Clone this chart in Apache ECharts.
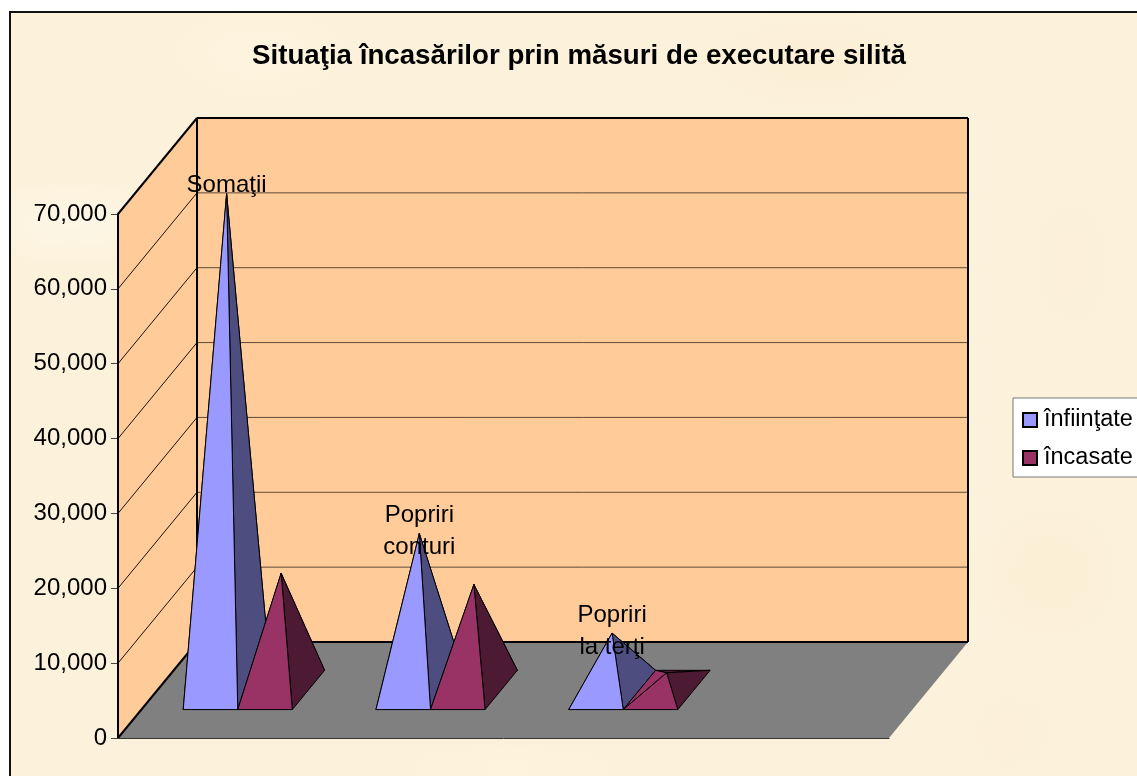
<!DOCTYPE html>
<html><head><meta charset="utf-8">
<style>
html,body{margin:0;padding:0;background:#fff;overflow:hidden}
#frame{position:absolute;left:9px;top:11px;width:1140px;height:780px;box-sizing:border-box;border:2px solid #111;
background-color:#fcf1da;
background-image:
radial-gradient(ellipse 120px 50px at 60px 210px,rgba(255,250,240,.55),transparent),
radial-gradient(ellipse 140px 70px at 250px 40px,rgba(255,248,230,.4),transparent),
radial-gradient(ellipse 90px 90px at 1040px 560px,rgba(248,232,198,.25),transparent),
radial-gradient(ellipse 80px 130px at 1060px 250px,rgba(249,235,205,.2),transparent),
radial-gradient(ellipse 150px 60px at 800px 50px,rgba(249,235,205,.35),transparent),
radial-gradient(ellipse 150px 30px at 500px 755px,rgba(255,246,222,.5),transparent),
radial-gradient(ellipse 80px 80px at 1000px 720px,rgba(249,235,205,.2),transparent);}
#chart{position:absolute;left:0;top:0;width:1137px;height:776px}
</style>
<script src="https://cdn.jsdelivr.net/npm/echarts@6/dist/echarts.min.js"></script>
</head><body><div id="frame"></div><div id="chart"></div>
<script>
const categories = ['Somaţii', 'Popriri\nconturi', 'Popriri\nla terţi', ''];
const infiintate = [66300, 20900, 7600];
const incasate = [15600, 14100, 2300];
const yTicks = [0, 10000, 20000, 30000, 40000, 50000, 60000, 70000];
const titleText = 'Situaţia încasărilor prin măsuri de executare silită';
const seriesNames = ['înfiinţate', 'încasate'];

const FONT = '"Liberation Sans", Arial, sans-serif';
const DX = 79, DY = 96;            // oblique projection of the chart's depth
const DEPTH_FRONT = 0.296, DEPTH_BACK = 0.705, DEPTH_MID = 0.5;
const BAR_W = 0.283;

const P = (x, y, d) => [x + d * DX, y - d * DY];
const poly = (points, fill, stroke, lineWidth) => ({
  type: 'polygon', shape: { points },
  style: { fill, stroke: stroke || '#000', lineWidth: lineWidth === undefined ? 1 : lineWidth }
});
const seg = (a, b, stroke, lineWidth) => ({
  type: 'line', shape: { x1: a[0], y1: a[1], x2: b[0], y2: b[1] },
  style: { stroke, lineWidth }
});

function renderWalls(params, api) {
  const c = params.coordSys;
  const x0 = c.x, x1 = c.x + c.width;
  const yOf = v => api.coord([0, v])[1];
  const y0 = yOf(0), yT = yOf(yTicks[yTicks.length - 1]);
  const children = [];
  children.push(poly([[x0, y0], [x1, y0], P(x1, y0, 1), P(x0, y0, 1)], '#808080', 'none', 0));
  children.push(poly([P(x0, y0, 1), P(x1, y0, 1), P(x1, yT, 1), P(x0, yT, 1)], '#FFCC99', 'none', 0));
  children.push(poly([[x0, y0], P(x0, y0, 1), P(x0, yT, 1), [x0, yT]], '#FFCC99', 'none', 0));
  yTicks.slice(1, -1).forEach(v => {
    const y = yOf(v);
    children.push(seg([x0, y], P(x0, y, 1), '#1a1208', 1));
    children.push(seg(P(x0, y, 1), P(x1, y, 1), '#5f4a36', 1));
  });
  const W = 2, K = '#000';
  children.push(seg([x0, y0], [x0, yT], K, W));
  children.push(seg([x0, yT], P(x0, yT, 1), K, W));
  children.push(seg([x0, y0], P(x0, y0, 1), K, W));
  children.push(seg(P(x0, y0, 1), P(x0, yT, 1), K, W));
  children.push(seg(P(x0, yT, 1), P(x1, yT, 1), K, W));
  children.push(seg(P(x1, yT, 1), P(x1, y0, 1), K, W));
  children.push(seg(P(x0, y0, 1), P(x1, y0, 1), K, W));
  return { type: 'group', silent: true, children };
}

function pyramid(side, front, dark, withLabel) {
  return function (params, api) {
    const cat = api.value(0), val = api.value(1);
    const base = api.coord([cat, 0]), top = api.coord([cat, val]);
    const w = api.size([1, 0])[0] * BAR_W;
    const cx = base[0] + side * w / 2;
    const x0 = cx - w / 2, x1 = cx + w / 2, y0 = base[1];
    const FL = P(x0, y0, DEPTH_FRONT), FR = P(x1, y0, DEPTH_FRONT);
    const BR = P(x1, y0, DEPTH_BACK), BL = P(x0, y0, DEPTH_BACK);
    const A = P(cx, top[1], DEPTH_MID);
    const children = [
      poly([BL, BR, A], dark),
      poly([FL, BL, A], front),
      poly([FR, BR, A], dark),
      poly([FL, FR, A], front)
    ];
    if (withLabel) {
      const text = categories[cat];
      children.push({
        type: 'text', x: A[0], y: A[1] + (text.indexOf('\n') < 0 ? -8 : -2),
        style: { text, font: '24px ' + FONT, fill: '#000', align: 'center', verticalAlign: 'middle', lineHeight: 32 }
      });
    }
    return { type: 'group', children };
  };
}

const chart = echarts.init(document.getElementById('chart'), null, { renderer: 'canvas' });
chart.setOption({
  backgroundColor: 'transparent',
  animation: false,
  title: {
    text: titleText, left: 574, top: 37, textAlign: 'center',
    textStyle: { fontFamily: FONT, fontSize: 27.7, fontWeight: 'bold', color: '#000' }
  },
  legend: {
    left: 1013, top: 398, orient: 'vertical', icon: 'rect',
    data: seriesNames,
    itemWidth: 14, itemHeight: 14, itemGap: 14,
    padding: [10, 20, 7, 9],
    backgroundColor: '#fff', borderColor: '#777', borderWidth: 1, borderRadius: 0,
    selectedMode: false,
    textStyle: { fontFamily: FONT, fontSize: 23.5, color: '#000', padding: [0, 0, 0, 2] }
  },
  grid: { left: 118, top: 214, width: 771, height: 524, containLabel: false },
  xAxis: {
    type: 'category', data: categories,
    axisLabel: { show: false }, axisTick: { show: false },
    axisLine: { show: true, lineStyle: { color: '#333', width: 1 } }, z: 5
  },
  yAxis: {
    type: 'value', min: 0, max: 70000, interval: 10000,
    axisLine: { show: true, lineStyle: { color: '#000', width: 2 } },
    axisTick: { show: true, length: 7, lineStyle: { color: '#444', width: 1 } },
    splitLine: { show: false },
    axisLabel: {
      margin: 11, fontFamily: FONT, fontSize: 24, color: '#000',
      formatter: v => v.toLocaleString('en-US')
    }
  },
  series: [
    { type: 'custom', name: 'walls', coordinateSystem: 'cartesian2d', clip: false, silent: true, z: 1,
      data: [[0, 0]], encode: { x: 0, y: 1 }, renderItem: renderWalls },
    { type: 'custom', name: seriesNames[0], coordinateSystem: 'cartesian2d', clip: false, z: 3,
      itemStyle: { color: '#9999FF', borderColor: '#000', borderWidth: 1 },
      data: infiintate.map((v, i) => [i, v]), encode: { x: 0, y: 1 },
      renderItem: pyramid(-1, '#9999FF', '#4D4D80', true) },
    { type: 'custom', name: seriesNames[1], coordinateSystem: 'cartesian2d', clip: false, z: 3,
      itemStyle: { color: '#993366', borderColor: '#000', borderWidth: 1 },
      data: incasate.map((v, i) => [i, v]), encode: { x: 0, y: 1 },
      renderItem: pyramid(1, '#993366', '#4D1A33', false) }
  ]
});
</script></body></html>
